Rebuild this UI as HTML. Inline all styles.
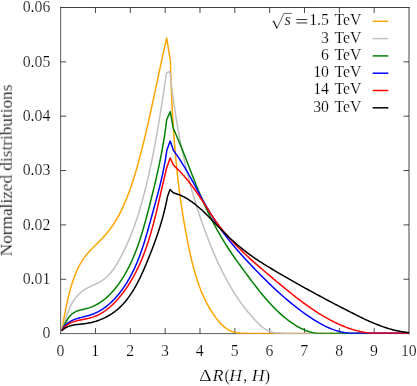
<!DOCTYPE html>
<html><head><meta charset="utf-8"><title>plot</title>
<style>
html,body{margin:0;padding:0;background:#fff;}
body{width:417px;height:386px;overflow:hidden;}
svg{display:block;}
svg text{will-change:transform;}
text{font-family:"Liberation Serif",serif;font-size:15.8px;fill:#000;stroke:#fff;stroke-width:0.2px;paint-order:fill stroke;}
.it{font-style:italic;}
</style></head><body>
<svg width="417" height="386" viewBox="0 0 417 386">
<rect x="0" y="0" width="417" height="386" fill="#fff"/>
<defs><clipPath id="cp"><rect x="60.65" y="7.5" width="348.35" height="326.15000000000003"/></clipPath></defs>
<g stroke="#000" stroke-width="0.72" fill="none">
<line x1="95.48" y1="333.60" x2="95.48" y2="328.10"/><line x1="95.48" y1="7.50" x2="95.48" y2="13.00"/><line x1="130.32" y1="333.60" x2="130.32" y2="328.10"/><line x1="130.32" y1="7.50" x2="130.32" y2="13.00"/><line x1="165.16" y1="333.60" x2="165.16" y2="328.10"/><line x1="165.16" y1="7.50" x2="165.16" y2="13.00"/><line x1="199.99" y1="333.60" x2="199.99" y2="328.10"/><line x1="199.99" y1="7.50" x2="199.99" y2="13.00"/><line x1="234.83" y1="333.60" x2="234.83" y2="328.10"/><line x1="234.83" y1="7.50" x2="234.83" y2="13.00"/><line x1="269.66" y1="333.60" x2="269.66" y2="328.10"/><line x1="269.66" y1="7.50" x2="269.66" y2="13.00"/><line x1="304.50" y1="333.60" x2="304.50" y2="328.10"/><line x1="304.50" y1="7.50" x2="304.50" y2="13.00"/><line x1="339.33" y1="333.60" x2="339.33" y2="328.10"/><line x1="339.33" y1="7.50" x2="339.33" y2="13.00"/><line x1="374.16" y1="333.60" x2="374.16" y2="328.10"/><line x1="374.16" y1="7.50" x2="374.16" y2="13.00"/><line x1="60.65" y1="279.25" x2="66.15" y2="279.25"/><line x1="409.00" y1="279.25" x2="403.50" y2="279.25"/><line x1="60.65" y1="224.90" x2="66.15" y2="224.90"/><line x1="409.00" y1="224.90" x2="403.50" y2="224.90"/><line x1="60.65" y1="170.55" x2="66.15" y2="170.55"/><line x1="409.00" y1="170.55" x2="403.50" y2="170.55"/><line x1="60.65" y1="116.20" x2="66.15" y2="116.20"/><line x1="409.00" y1="116.20" x2="403.50" y2="116.20"/><line x1="60.65" y1="61.85" x2="66.15" y2="61.85"/><line x1="409.00" y1="61.85" x2="403.50" y2="61.85"/>
</g>
<g fill="none" stroke-linecap="square">
<line x1="60.65" y1="7.5" x2="409.0" y2="7.5" stroke="#000" stroke-width="0.75"/>
<line x1="60.65" y1="7.5" x2="60.65" y2="333.6" stroke="#222" stroke-width="0.75"/>
<line x1="60.65" y1="333.6" x2="409.0" y2="333.6" stroke="#333" stroke-width="0.8"/>
<line x1="409.0" y1="7.5" x2="409.0" y2="333.6" stroke="#222" stroke-width="0.85"/>
</g>
<g clip-path="url(#cp)"><path d="M61.80 330.80L62.06 329.32L62.32 327.85L62.58 326.37L62.84 324.88L63.10 323.40L63.36 321.91L63.62 320.43L63.88 318.94L64.15 317.45L64.42 315.96L64.70 314.47L64.98 312.97L65.26 311.48L65.55 309.99L65.84 308.50L66.14 307.01L66.44 305.52L66.76 304.03L67.08 302.55L67.40 301.06L67.74 299.57L68.08 298.09L68.43 296.61L68.80 295.13L69.17 293.66L69.55 292.18L69.94 290.71L70.35 289.25L70.76 287.78L71.19 286.32L71.63 284.87L72.09 283.42L72.55 281.97L73.03 280.52L73.53 279.09L74.05 277.66L74.58 276.24L75.12 274.82L75.69 273.42L76.28 272.03L76.89 270.65L77.51 269.27L78.16 267.92L78.84 266.57L79.53 265.24L80.26 263.93L81.00 262.63L81.78 261.35L82.58 260.09L83.41 258.84L84.26 257.62L85.15 256.41L86.07 255.23L87.02 254.07L87.99 252.92L88.99 251.80L90.01 250.68L91.04 249.58L92.10 248.49L93.16 247.41L94.23 246.33L95.31 245.26L96.40 244.19L97.48 243.13L98.57 242.06L99.65 240.99L100.72 239.91L101.78 238.82L102.83 237.73L103.86 236.62L104.87 235.50L105.86 234.37L106.84 233.22L107.79 232.06L108.72 230.88L109.63 229.69L110.53 228.49L111.40 227.28L112.26 226.05L113.10 224.81L113.92 223.56L114.73 222.30L115.52 221.03L116.29 219.75L117.05 218.46L117.79 217.15L118.51 215.84L119.23 214.52L119.93 213.19L120.61 211.85L121.28 210.51L121.94 209.16L122.58 207.79L123.22 206.43L123.84 205.05L124.45 203.67L125.05 202.29L125.64 200.90L126.21 199.50L126.78 198.10L127.34 196.69L127.89 195.28L128.43 193.87L128.96 192.45L129.49 191.03L130.00 189.61L130.51 188.18L131.01 186.75L131.50 185.32L131.99 183.88L132.47 182.44L132.94 181.00L133.40 179.55L133.86 178.11L134.31 176.66L134.76 175.20L135.20 173.75L135.64 172.29L136.06 170.84L136.49 169.38L136.91 167.92L137.32 166.45L137.73 164.99L138.14 163.53L138.54 162.06L138.93 160.59L139.33 159.12L139.72 157.66L140.10 156.19L140.48 154.72L140.86 153.25L141.24 151.78L141.62 150.31L141.99 148.83L142.36 147.36L142.72 145.89L143.09 144.42L143.45 142.95L143.81 141.48L144.17 140.00L144.52 138.53L144.88 137.06L145.23 135.59L145.58 134.11L145.92 132.64L146.27 131.17L146.61 129.69L146.95 128.22L147.29 126.75L147.63 125.27L147.97 123.80L148.30 122.32L148.63 120.85L148.97 119.37L149.30 117.90L149.63 116.42L149.95 114.95L150.28 113.47L150.61 111.99L150.93 110.52L151.25 109.04L151.58 107.57L151.90 106.09L152.22 104.61L152.54 103.14L152.86 101.66L153.17 100.18L153.49 98.71L153.81 97.23L154.13 95.75L154.44 94.28L154.76 92.80L155.07 91.32L155.39 89.84L155.70 88.37L156.02 86.89L156.33 85.41L156.65 83.93L156.96 82.45L157.28 80.98L157.59 79.50L157.91 78.02L158.22 76.54L158.54 75.06L158.85 73.59L159.17 72.11L159.49 70.63L159.80 69.15L160.12 67.67L160.44 66.19L160.76 64.71L161.08 63.24L161.40 61.76L161.72 60.28L162.05 58.80L162.37 57.32L162.69 55.84L163.02 54.36L163.35 52.89L163.68 51.41L164.01 49.93L164.34 48.45L164.67 46.97L165.00 45.49L165.34 44.01L165.68 42.54L166.02 41.06L166.36 39.58L166.70 38.10L170.40 60.80L170.44 62.32L170.48 63.84L170.53 65.36L170.57 66.88L170.61 68.39L170.66 69.91L170.71 71.43L170.75 72.95L170.80 74.46L170.85 75.98L170.90 77.50L170.96 79.01L171.01 80.53L171.06 82.04L171.12 83.56L171.17 85.07L171.23 86.58L171.29 88.10L171.35 89.61L171.41 91.12L171.48 92.64L171.54 94.15L171.61 95.66L171.67 97.17L171.74 98.68L171.81 100.19L171.88 101.70L171.95 103.21L172.03 104.72L172.10 106.23L172.18 107.74L172.26 109.25L172.34 110.76L172.42 112.27L172.50 113.78L172.59 115.28L172.68 116.79L172.76 118.30L172.85 119.80L172.95 121.31L173.04 122.82L173.13 124.32L173.23 125.83L173.33 127.33L173.43 128.84L173.53 130.34L173.63 131.85L173.74 133.35L173.85 134.86L173.96 136.36L174.07 137.86L174.18 139.37L174.30 140.87L174.41 142.37L174.53 143.88L174.66 145.38L174.78 146.88L174.90 148.38L175.03 149.88L175.16 151.39L175.29 152.89L175.43 154.39L175.56 155.89L175.70 157.39L175.84 158.89L175.98 160.39L176.13 161.89L176.27 163.39L176.42 164.89L176.58 166.39L176.73 167.89L176.89 169.39L177.04 170.89L177.21 172.38L177.37 173.88L177.54 175.38L177.70 176.88L177.87 178.38L178.05 179.87L178.22 181.37L178.40 182.87L178.58 184.37L178.77 185.86L178.95 187.36L179.14 188.86L179.33 190.35L179.53 191.85L179.72 193.35L179.92 194.84L180.12 196.34L180.33 197.83L180.54 199.33L180.75 200.83L180.96 202.32L181.18 203.82L181.39 205.31L181.62 206.81L181.84 208.30L182.07 209.80L182.30 211.29L182.53 212.79L182.77 214.28L183.01 215.77L183.25 217.27L183.49 218.76L183.74 220.26L183.99 221.75L184.25 223.25L184.51 224.74L184.77 226.23L185.03 227.73L185.30 229.22L185.57 230.71L185.84 232.21L186.12 233.70L186.40 235.19L186.68 236.69L186.97 238.18L187.26 239.67L187.55 241.17L187.85 242.66L188.15 244.15L188.45 245.65L188.76 247.14L189.07 248.63L189.38 250.12L189.70 251.62L190.02 253.11L190.35 254.60L190.69 256.08L191.03 257.57L191.37 259.05L191.73 260.54L192.08 262.02L192.45 263.50L192.82 264.97L193.20 266.44L193.59 267.91L193.99 269.38L194.40 270.85L194.81 272.31L195.23 273.76L195.67 275.21L196.11 276.66L196.56 278.11L197.02 279.54L197.50 280.98L197.98 282.41L198.48 283.83L198.99 285.25L199.51 286.67L200.04 288.07L200.58 289.47L201.14 290.87L201.71 292.26L202.29 293.64L202.89 295.02L203.50 296.39L204.13 297.75L204.77 299.10L205.42 300.45L206.09 301.79L206.78 303.12L207.48 304.44L208.20 305.75L208.94 307.06L209.69 308.36L210.46 309.65L211.24 310.92L212.05 312.19L212.87 313.45L213.71 314.70L214.57 315.94L215.45 317.17L216.35 318.39L217.27 319.59L218.22 320.77L219.19 321.92L220.19 323.04L221.21 324.12L222.27 325.16L223.37 326.16L224.50 327.11L225.66 328.01L226.87 328.84L228.11 329.62L229.40 330.32L230.74 330.95L232.12 331.51L233.54 331.98L235.02 332.36L236.55 332.67L238.10 332.90L239.68 333.08L241.27 333.20L242.86 333.28L244.43 333.33L245.99 333.36L247.52 333.38L249.00 333.40L409.00 333.50" fill="none" stroke="#ffa500" stroke-width="1.5" stroke-linejoin="round" stroke-linecap="butt"/>
<path d="M61.80 330.80L62.29 329.44L62.77 328.05L63.23 326.63L63.69 325.20L64.15 323.75L64.60 322.29L65.05 320.82L65.51 319.34L65.98 317.86L66.46 316.38L66.95 314.90L67.46 313.43L68.00 311.97L68.55 310.53L69.14 309.10L69.75 307.69L70.40 306.30L71.08 304.95L71.80 303.61L72.56 302.31L73.35 301.04L74.19 299.81L75.06 298.61L75.96 297.44L76.91 296.31L77.89 295.22L78.92 294.17L79.98 293.16L81.08 292.20L82.23 291.28L83.41 290.41L84.63 289.59L85.90 288.81L87.20 288.08L88.53 287.39L89.89 286.72L91.26 286.07L92.65 285.44L94.04 284.80L95.43 284.15L96.81 283.49L98.17 282.81L99.51 282.09L100.83 281.33L102.11 280.52L103.36 279.65L104.57 278.73L105.74 277.77L106.87 276.76L107.97 275.70L109.03 274.61L110.06 273.48L111.05 272.33L112.01 271.14L112.94 269.93L113.83 268.70L114.70 267.45L115.53 266.18L116.34 264.90L117.13 263.60L117.89 262.29L118.64 260.98L119.37 259.65L120.09 258.32L120.81 256.99L121.51 255.65L122.20 254.30L122.88 252.96L123.55 251.60L124.21 250.24L124.86 248.88L125.51 247.51L126.14 246.14L126.77 244.77L127.38 243.39L127.99 242.01L128.59 240.62L129.18 239.23L129.77 237.84L130.34 236.44L130.91 235.04L131.46 233.63L132.01 232.22L132.56 230.81L133.09 229.40L133.62 227.98L134.14 226.56L134.65 225.14L135.16 223.71L135.65 222.28L136.15 220.85L136.63 219.41L137.11 217.97L137.58 216.53L138.04 215.09L138.50 213.65L138.95 212.20L139.40 210.75L139.84 209.30L140.28 207.85L140.70 206.39L141.13 204.93L141.54 203.47L141.96 202.01L142.36 200.55L142.77 199.09L143.16 197.62L143.55 196.15L143.94 194.68L144.32 193.21L144.70 191.74L145.07 190.27L145.44 188.80L145.81 187.32L146.17 185.85L146.53 184.37L146.88 182.90L147.23 181.42L147.58 179.94L147.92 178.47L148.26 176.99L148.59 175.51L148.92 174.03L149.25 172.55L149.58 171.07L149.90 169.59L150.22 168.11L150.54 166.63L150.85 165.15L151.17 163.66L151.47 162.18L151.78 160.70L152.08 159.22L152.38 157.73L152.68 156.25L152.97 154.76L153.27 153.28L153.56 151.79L153.84 150.31L154.13 148.82L154.41 147.34L154.69 145.85L154.97 144.36L155.24 142.88L155.52 141.39L155.79 139.90L156.06 138.41L156.32 136.92L156.59 135.44L156.85 133.95L157.11 132.46L157.37 130.97L157.63 129.48L157.89 127.98L158.14 126.49L158.39 125.00L158.65 123.51L158.90 122.02L159.14 120.53L159.39 119.03L159.64 117.54L159.88 116.05L160.12 114.55L160.36 113.06L160.60 111.56L160.84 110.07L161.08 108.57L161.32 107.08L161.56 105.58L161.79 104.09L162.02 102.59L162.26 101.09L162.49 99.60L162.72 98.10L162.95 96.60L163.18 95.10L163.41 93.61L163.64 92.11L163.87 90.61L164.10 89.11L164.33 87.61L164.56 86.11L164.78 84.61L165.01 83.11L165.24 81.61L165.47 80.11L165.69 78.61L165.92 77.11L166.15 75.60L166.37 74.10L166.60 72.60L169.90 71.50L170.06 73.00L170.23 74.50L170.39 76.00L170.56 77.50L170.74 79.00L170.91 80.50L171.09 81.99L171.27 83.49L171.45 84.99L171.63 86.49L171.82 87.98L172.01 89.48L172.20 90.98L172.39 92.47L172.59 93.97L172.79 95.47L172.99 96.96L173.20 98.46L173.41 99.95L173.62 101.44L173.83 102.94L174.04 104.43L174.26 105.92L174.48 107.41L174.71 108.91L174.93 110.40L175.16 111.89L175.40 113.38L175.63 114.87L175.87 116.36L176.11 117.85L176.35 119.33L176.60 120.82L176.85 122.31L177.10 123.80L177.36 125.28L177.61 126.77L177.88 128.25L178.14 129.74L178.41 131.22L178.68 132.70L178.95 134.18L179.23 135.67L179.51 137.15L179.79 138.63L180.08 140.11L180.37 141.59L180.66 143.07L180.95 144.54L181.25 146.02L181.55 147.50L181.86 148.97L182.17 150.45L182.48 151.92L182.80 153.39L183.11 154.87L183.44 156.34L183.76 157.81L184.09 159.28L184.42 160.75L184.76 162.22L185.10 163.68L185.44 165.15L185.78 166.62L186.13 168.08L186.49 169.55L186.84 171.01L187.20 172.47L187.57 173.93L187.93 175.39L188.30 176.85L188.68 178.31L189.06 179.77L189.44 181.23L189.82 182.68L190.21 184.14L190.61 185.59L191.00 187.05L191.40 188.50L191.81 189.95L192.22 191.40L192.63 192.85L193.04 194.30L193.46 195.74L193.89 197.19L194.31 198.63L194.74 200.08L195.18 201.52L195.62 202.96L196.06 204.40L196.51 205.84L196.96 207.28L197.41 208.72L197.87 210.15L198.34 211.59L198.80 213.02L199.27 214.45L199.75 215.89L200.23 217.32L200.71 218.74L201.20 220.17L201.69 221.60L202.19 223.02L202.69 224.45L203.19 225.87L203.70 227.29L204.22 228.71L204.73 230.13L205.26 231.55L205.78 232.96L206.31 234.38L206.85 235.79L207.39 237.20L207.93 238.61L208.48 240.02L209.03 241.43L209.59 242.84L210.15 244.24L210.72 245.65L211.29 247.05L211.86 248.45L212.44 249.85L213.03 251.25L213.62 252.64L214.21 254.04L214.82 255.43L215.42 256.82L216.03 258.20L216.65 259.59L217.27 260.97L217.90 262.34L218.54 263.72L219.18 265.09L219.83 266.46L220.48 267.82L221.14 269.18L221.81 270.54L222.48 271.90L223.16 273.25L223.85 274.59L224.54 275.93L225.25 277.27L225.95 278.60L226.67 279.93L227.40 281.25L228.13 282.57L228.87 283.89L229.62 285.19L230.37 286.50L231.14 287.79L231.91 289.09L232.69 290.37L233.48 291.65L234.28 292.93L235.08 294.20L235.90 295.46L236.72 296.72L237.56 297.97L238.40 299.21L239.25 300.45L240.11 301.68L240.99 302.90L241.87 304.11L242.76 305.32L243.66 306.52L244.57 307.72L245.49 308.90L246.42 310.08L247.37 311.25L248.32 312.42L249.28 313.57L250.26 314.72L251.24 315.85L252.24 316.98L253.25 318.10L254.27 319.22L255.30 320.32L256.34 321.41L257.39 322.49L258.47 323.56L259.56 324.60L260.67 325.60L261.81 326.57L262.98 327.50L264.18 328.37L265.42 329.19L266.70 329.94L268.02 330.63L269.39 331.23L270.81 331.75L272.28 332.19L273.81 332.52L275.39 332.76L277.01 332.92L278.63 333.02L280.24 333.09L281.81 333.15L283.31 333.22L284.71 333.33L286.00 333.50L409.00 333.50" fill="none" stroke="#c0c0c0" stroke-width="1.5" stroke-linejoin="round" stroke-linecap="butt"/>
<path d="M61.80 330.80L62.38 329.53L62.98 328.20L63.60 326.83L64.24 325.43L64.91 324.01L65.61 322.59L66.36 321.18L67.15 319.82L68.00 318.49L68.91 317.24L69.87 316.06L70.91 314.97L72.02 314.00L73.20 313.12L74.45 312.35L75.75 311.66L77.11 311.07L78.53 310.56L79.99 310.12L81.48 309.75L83.01 309.42L84.53 309.09L86.04 308.73L87.53 308.33L88.98 307.87L90.41 307.38L91.82 306.84L93.20 306.25L94.56 305.63L95.89 304.96L97.20 304.26L98.48 303.51L99.74 302.73L100.98 301.92L102.19 301.07L103.38 300.19L104.55 299.28L105.70 298.34L106.82 297.36L107.92 296.36L109.01 295.34L110.07 294.29L111.11 293.21L112.13 292.11L113.13 290.99L114.12 289.85L115.08 288.69L116.02 287.52L116.95 286.32L117.86 285.11L118.75 283.89L119.62 282.65L120.47 281.40L121.31 280.15L122.13 278.88L122.94 277.60L123.73 276.32L124.50 275.02L125.26 273.72L126.00 272.41L126.73 271.10L127.44 269.77L128.14 268.44L128.83 267.10L129.50 265.76L130.16 264.40L130.81 263.04L131.44 261.68L132.06 260.31L132.67 258.93L133.27 257.54L133.85 256.15L134.43 254.76L134.99 253.36L135.55 251.95L136.09 250.54L136.62 249.13L137.15 247.71L137.66 246.28L138.17 244.86L138.66 243.42L139.15 241.99L139.63 240.55L140.11 239.11L140.57 237.66L141.03 236.21L141.48 234.76L141.93 233.31L142.36 231.85L142.80 230.39L143.22 228.93L143.65 227.47L144.06 226.01L144.48 224.54L144.88 223.08L145.29 221.61L145.69 220.14L146.08 218.67L146.48 217.20L146.87 215.73L147.26 214.26L147.64 212.79L148.03 211.32L148.41 209.85L148.79 208.39L149.17 206.92L149.55 205.45L149.92 203.98L150.30 202.52L150.67 201.05L151.04 199.59L151.41 198.12L151.78 196.66L152.15 195.19L152.51 193.73L152.87 192.27L153.23 190.80L153.59 189.34L153.94 187.87L154.30 186.41L154.65 184.95L155.00 183.48L155.34 182.02L155.69 180.55L156.03 179.09L156.36 177.62L156.70 176.16L157.03 174.69L157.36 173.23L157.69 171.76L158.01 170.29L158.33 168.82L158.65 167.35L158.96 165.88L159.27 164.41L159.58 162.94L159.88 161.47L160.18 160.00L160.48 158.52L160.77 157.05L161.06 155.57L161.34 154.10L161.62 152.62L161.90 151.14L162.17 149.66L162.44 148.18L162.71 146.69L162.97 145.21L163.23 143.72L163.48 142.23L163.73 140.74L163.97 139.25L164.21 137.76L164.44 136.27L164.67 134.77L164.90 133.27L165.12 131.77L165.33 130.27L165.54 128.77L165.75 127.26L165.95 125.75L166.15 124.24L166.34 122.73L166.52 121.22L166.70 119.70L170.30 111.60L173.20 128.20L173.82 129.57L174.43 130.94L175.04 132.31L175.64 133.68L176.24 135.06L176.84 136.45L177.43 137.83L178.01 139.22L178.60 140.61L179.18 142.00L179.75 143.39L180.33 144.79L180.90 146.19L181.46 147.59L182.03 148.99L182.59 150.40L183.15 151.80L183.71 153.21L184.27 154.62L184.82 156.03L185.38 157.44L185.93 158.85L186.48 160.26L187.03 161.68L187.58 163.09L188.13 164.51L188.68 165.92L189.23 167.34L189.78 168.75L190.33 170.17L190.88 171.58L191.43 173.00L191.98 174.41L192.54 175.83L193.09 177.24L193.65 178.65L194.20 180.07L194.76 181.48L195.33 182.89L195.89 184.30L196.46 185.71L197.03 187.11L197.60 188.52L198.18 189.92L198.75 191.32L199.34 192.73L199.92 194.12L200.51 195.52L201.11 196.91L201.70 198.31L202.31 199.69L202.91 201.08L203.53 202.47L204.14 203.85L204.77 205.22L205.39 206.60L206.03 207.97L206.67 209.34L207.31 210.71L207.96 212.07L208.62 213.43L209.28 214.79L209.95 216.14L210.62 217.49L211.30 218.83L211.98 220.18L212.67 221.51L213.37 222.85L214.07 224.18L214.78 225.51L215.49 226.84L216.21 228.16L216.94 229.47L217.67 230.79L218.41 232.10L219.15 233.40L219.90 234.71L220.65 236.01L221.42 237.30L222.18 238.59L222.96 239.88L223.73 241.16L224.52 242.44L225.31 243.72L226.11 244.99L226.91 246.26L227.72 247.52L228.54 248.78L229.36 250.03L230.19 251.28L231.02 252.53L231.86 253.77L232.71 255.01L233.56 256.24L234.42 257.47L235.29 258.70L236.15 259.92L237.03 261.14L237.91 262.36L238.79 263.58L239.68 264.80L240.57 266.01L241.46 267.23L242.36 268.45L243.26 269.67L244.16 270.89L245.06 272.11L245.96 273.33L246.87 274.55L247.78 275.78L248.69 277.00L249.61 278.23L250.52 279.46L251.44 280.68L252.37 281.91L253.29 283.13L254.23 284.35L255.16 285.57L256.10 286.78L257.04 287.99L257.99 289.20L258.95 290.40L259.90 291.60L260.87 292.80L261.84 293.98L262.81 295.16L263.80 296.34L264.78 297.51L265.78 298.67L266.78 299.82L267.79 300.97L268.81 302.10L269.83 303.23L270.86 304.35L271.90 305.45L272.95 306.55L274.00 307.64L275.07 308.71L276.14 309.77L277.22 310.82L278.32 311.86L279.42 312.88L280.53 313.89L281.65 314.89L282.78 315.87L283.92 316.84L285.08 317.79L286.24 318.72L287.41 319.64L288.60 320.55L289.80 321.43L291.01 322.30L292.23 323.15L293.46 323.97L294.71 324.78L295.97 325.56L297.24 326.32L298.53 327.05L299.83 327.75L301.15 328.42L302.48 329.05L303.82 329.66L305.18 330.22L306.56 330.75L307.95 331.24L309.36 331.70L310.78 332.10L312.23 332.47L313.68 332.79L315.16 333.06L316.65 333.28L318.16 333.45L319.69 333.50L321.24 333.50L322.81 333.50L324.39 333.50L326.00 333.50L409.00 333.50" fill="none" stroke="#008000" stroke-width="1.5" stroke-linejoin="round" stroke-linecap="butt"/>
<path d="M61.80 330.80L62.52 329.28L63.32 327.89L64.21 326.63L65.16 325.47L66.18 324.42L67.27 323.47L68.41 322.61L69.61 321.83L70.86 321.13L72.15 320.49L73.48 319.91L74.85 319.38L76.25 318.90L77.68 318.45L79.12 318.03L80.59 317.63L82.06 317.25L83.55 316.87L85.03 316.49L86.52 316.10L88.00 315.69L89.47 315.25L90.92 314.79L92.35 314.28L93.76 313.73L95.15 313.14L96.52 312.51L97.86 311.83L99.18 311.12L100.48 310.38L101.76 309.59L103.02 308.78L104.26 307.92L105.48 307.04L106.67 306.13L107.85 305.18L109.00 304.21L110.13 303.21L111.25 302.19L112.34 301.14L113.41 300.07L114.47 298.98L115.50 297.86L116.52 296.73L117.51 295.58L118.49 294.41L119.44 293.22L120.38 292.02L121.30 290.81L122.20 289.59L123.08 288.35L123.94 287.11L124.78 285.85L125.61 284.59L126.42 283.31L127.21 282.03L127.99 280.73L128.75 279.43L129.49 278.12L130.22 276.80L130.93 275.47L131.63 274.13L132.32 272.79L132.99 271.44L133.64 270.08L134.29 268.71L134.92 267.34L135.54 265.96L136.14 264.57L136.74 263.18L137.32 261.78L137.89 260.37L138.45 258.96L139.00 257.55L139.54 256.13L140.07 254.70L140.59 253.27L141.10 251.84L141.61 250.40L142.10 248.96L142.59 247.51L143.07 246.06L143.54 244.61L144.00 243.15L144.46 241.70L144.91 240.23L145.36 238.77L145.80 237.31L146.24 235.84L146.67 234.37L147.09 232.90L147.52 231.43L147.93 229.96L148.35 228.49L148.76 227.01L149.17 225.54L149.58 224.07L149.99 222.60L150.39 221.12L150.79 219.65L151.19 218.18L151.60 216.71L152.00 215.25L152.40 213.78L152.80 212.31L153.20 210.85L153.60 209.39L154.00 207.93L154.40 206.47L154.80 205.01L155.20 203.55L155.60 202.10L155.99 200.64L156.38 199.18L156.77 197.73L157.16 196.27L157.55 194.81L157.93 193.36L158.31 191.90L158.69 190.44L159.06 188.98L159.43 187.52L159.79 186.06L160.15 184.60L160.51 183.14L160.86 181.67L161.21 180.21L161.55 178.74L161.89 177.27L162.22 175.79L162.55 174.32L162.87 172.84L163.18 171.36L163.49 169.88L163.79 168.40L164.08 166.91L164.37 165.42L164.65 163.92L164.92 162.42L165.19 160.92L165.44 159.42L165.69 157.91L165.93 156.40L166.16 154.88L166.38 153.36L166.60 151.83L166.80 150.30L170.20 141.00L173.40 150.30L174.29 151.51L175.16 152.73L176.03 153.96L176.88 155.20L177.73 156.45L178.57 157.70L179.40 158.96L180.22 160.22L181.03 161.50L181.83 162.77L182.63 164.06L183.42 165.35L184.20 166.64L184.98 167.94L185.75 169.25L186.52 170.55L187.28 171.87L188.03 173.18L188.78 174.50L189.53 175.83L190.27 177.15L191.01 178.48L191.75 179.81L192.48 181.15L193.22 182.48L193.95 183.82L194.67 185.16L195.40 186.50L196.13 187.84L196.85 189.18L197.58 190.52L198.30 191.86L199.03 193.20L199.76 194.54L200.48 195.88L201.21 197.22L201.95 198.56L202.68 199.89L203.42 201.22L204.16 202.55L204.90 203.88L205.64 205.20L206.40 206.53L207.15 207.84L207.91 209.16L208.68 210.47L209.45 211.77L210.22 213.08L211.01 214.37L211.79 215.66L212.59 216.95L213.39 218.23L214.21 219.51L215.02 220.77L215.85 222.04L216.69 223.29L217.53 224.54L218.38 225.78L219.24 227.02L220.11 228.25L220.98 229.48L221.87 230.69L222.75 231.91L223.65 233.12L224.55 234.32L225.46 235.52L226.38 236.71L227.30 237.90L228.23 239.08L229.17 240.26L230.11 241.43L231.06 242.60L232.02 243.77L232.98 244.92L233.94 246.08L234.91 247.23L235.89 248.38L236.87 249.52L237.86 250.66L238.85 251.80L239.85 252.93L240.85 254.06L241.85 255.19L242.86 256.31L243.88 257.43L244.90 258.55L245.92 259.66L246.95 260.77L247.98 261.88L249.01 262.99L250.05 264.09L251.09 265.20L252.13 266.29L253.18 267.39L254.23 268.49L255.29 269.58L256.34 270.67L257.40 271.76L258.46 272.85L259.52 273.94L260.59 275.02L261.66 276.10L262.74 277.18L263.81 278.26L264.89 279.33L265.98 280.40L267.06 281.46L268.15 282.53L269.25 283.59L270.34 284.64L271.44 285.69L272.55 286.74L273.66 287.79L274.77 288.83L275.88 289.86L277.00 290.89L278.13 291.92L279.26 292.94L280.39 293.96L281.52 294.97L282.66 295.97L283.81 296.97L284.96 297.97L286.11 298.96L287.27 299.94L288.43 300.92L289.60 301.89L290.77 302.86L291.95 303.82L293.13 304.77L294.32 305.71L295.51 306.65L296.71 307.59L297.91 308.51L299.12 309.43L300.33 310.34L301.55 311.24L302.77 312.14L304.00 313.03L305.24 313.90L306.48 314.78L307.72 315.64L308.97 316.49L310.23 317.34L311.49 318.18L312.76 319.01L314.04 319.82L315.32 320.63L316.61 321.42L317.91 322.19L319.21 322.95L320.52 323.69L321.84 324.42L323.17 325.12L324.50 325.81L325.85 326.47L327.20 327.10L328.56 327.72L329.94 328.31L331.32 328.87L332.71 329.40L334.12 329.90L335.53 330.38L336.95 330.82L338.39 331.23L339.84 331.60L341.30 331.94L342.77 332.24L344.25 332.51L345.75 332.73L347.26 332.92L348.78 333.06L350.31 333.16L351.86 333.22L353.42 333.23L355.00 333.20L409.00 333.20" fill="none" stroke="#0000ff" stroke-width="1.5" stroke-linejoin="round" stroke-linecap="butt"/>
<path d="M61.80 330.80L62.67 329.42L63.61 328.16L64.62 327.03L65.71 326.02L66.85 325.11L68.06 324.29L69.31 323.57L70.62 322.93L71.97 322.35L73.36 321.84L74.78 321.39L76.23 320.98L77.71 320.61L79.20 320.27L80.71 319.95L82.23 319.65L83.76 319.34L85.29 319.04L86.81 318.71L88.32 318.37L89.82 318.00L91.30 317.59L92.76 317.13L94.20 316.62L95.61 316.07L96.99 315.47L98.36 314.82L99.70 314.14L101.01 313.41L102.31 312.64L103.58 311.84L104.83 311.00L106.06 310.12L107.26 309.21L108.45 308.28L109.62 307.31L110.76 306.31L111.89 305.29L112.99 304.24L114.08 303.17L115.15 302.08L116.19 300.96L117.22 299.83L118.24 298.68L119.23 297.52L120.21 296.34L121.17 295.15L122.11 293.95L123.04 292.74L123.95 291.53L124.85 290.30L125.73 289.06L126.59 287.82L127.44 286.56L128.27 285.30L129.09 284.03L129.89 282.75L130.68 281.47L131.46 280.17L132.22 278.87L132.97 277.56L133.70 276.25L134.42 274.92L135.13 273.59L135.82 272.25L136.50 270.91L137.17 269.56L137.83 268.20L138.48 266.84L139.11 265.47L139.74 264.09L140.35 262.71L140.95 261.32L141.54 259.93L142.12 258.53L142.68 257.13L143.24 255.72L143.79 254.31L144.33 252.89L144.86 251.47L145.38 250.04L145.89 248.61L146.39 247.17L146.89 245.73L147.37 244.29L147.85 242.84L148.32 241.39L148.79 239.93L149.24 238.47L149.69 237.01L150.13 235.55L150.56 234.08L150.99 232.61L151.41 231.14L151.83 229.66L152.24 228.19L152.64 226.71L153.04 225.22L153.43 223.74L153.82 222.26L154.20 220.77L154.58 219.28L154.96 217.79L155.33 216.30L155.70 214.81L156.06 213.32L156.42 211.83L156.78 210.33L157.13 208.84L157.48 207.35L157.83 205.85L158.18 204.36L158.53 202.87L158.87 201.38L159.21 199.88L159.55 198.39L159.89 196.90L160.23 195.41L160.57 193.92L160.90 192.44L161.24 190.95L161.58 189.47L161.92 187.98L162.26 186.50L162.59 185.03L162.93 183.55L163.28 182.08L163.62 180.60L163.96 179.14L164.31 177.67L164.66 176.21L165.01 174.75L165.36 173.29L165.72 171.84L166.07 170.39L166.44 168.94L166.80 167.50L170.20 158.00L173.50 165.30L174.62 166.32L175.73 167.35L176.82 168.39L177.90 169.45L178.96 170.52L180.01 171.60L181.04 172.69L182.07 173.79L183.08 174.90L184.08 176.03L185.06 177.16L186.04 178.31L187.00 179.46L187.96 180.63L188.90 181.80L189.83 182.98L190.76 184.17L191.67 185.37L192.58 186.58L193.48 187.79L194.37 189.01L195.25 190.24L196.12 191.47L196.99 192.71L197.85 193.96L198.71 195.21L199.56 196.47L200.40 197.73L201.24 198.99L202.08 200.26L202.91 201.53L203.74 202.81L204.56 204.09L205.38 205.37L206.20 206.65L207.02 207.94L207.84 209.22L208.66 210.51L209.48 211.79L210.30 213.07L211.13 214.34L211.97 215.61L212.81 216.87L213.66 218.13L214.52 219.37L215.38 220.61L216.26 221.84L217.15 223.06L218.05 224.28L218.95 225.48L219.87 226.67L220.80 227.86L221.73 229.04L222.67 230.21L223.62 231.37L224.58 232.52L225.55 233.67L226.53 234.81L227.51 235.94L228.51 237.07L229.51 238.18L230.51 239.30L231.53 240.40L232.55 241.50L233.58 242.59L234.61 243.68L235.66 244.76L236.71 245.83L237.76 246.90L238.82 247.96L239.89 249.02L240.96 250.07L242.04 251.12L243.12 252.16L244.21 253.20L245.30 254.23L246.40 255.26L247.51 256.28L248.61 257.31L249.73 258.32L250.84 259.34L251.96 260.35L253.09 261.35L254.21 262.36L255.34 263.36L256.48 264.35L257.62 265.35L258.76 266.34L259.90 267.33L261.05 268.32L262.20 269.30L263.35 270.28L264.50 271.27L265.66 272.25L266.81 273.23L267.97 274.20L269.13 275.18L270.29 276.15L271.45 277.13L272.62 278.10L273.78 279.08L274.94 280.05L276.11 281.02L277.28 282.00L278.44 282.97L279.61 283.94L280.78 284.91L281.95 285.88L283.12 286.84L284.29 287.81L285.46 288.77L286.64 289.73L287.82 290.69L289.00 291.64L290.18 292.59L291.36 293.54L292.55 294.49L293.74 295.43L294.93 296.36L296.12 297.29L297.32 298.22L298.52 299.14L299.73 300.06L300.93 300.97L302.14 301.88L303.36 302.78L304.58 303.67L305.80 304.56L307.03 305.44L308.26 306.31L309.50 307.18L310.74 308.04L311.98 308.89L313.23 309.73L314.49 310.57L315.75 311.39L317.01 312.21L318.28 313.02L319.56 313.82L320.84 314.61L322.13 315.39L323.43 316.16L324.73 316.92L326.03 317.67L327.35 318.41L328.67 319.14L329.99 319.86L331.33 320.57L332.67 321.26L334.01 321.94L335.37 322.61L336.73 323.27L338.09 323.91L339.47 324.53L340.85 325.14L342.24 325.73L343.63 326.31L345.03 326.87L346.44 327.41L347.85 327.93L349.27 328.43L350.69 328.91L352.13 329.37L353.56 329.81L355.01 330.22L356.46 330.62L357.91 330.99L359.38 331.33L360.84 331.65L362.32 331.95L363.80 332.22L365.28 332.46L366.78 332.68L368.27 332.87L369.78 333.03L371.28 333.16L372.80 333.26L374.32 333.33L375.84 333.37L377.38 333.37L378.91 333.35L380.45 333.29L382.00 333.20L409.00 333.20" fill="none" stroke="#ff0000" stroke-width="1.5" stroke-linejoin="round" stroke-linecap="butt"/>
<path d="M61.80 330.80L62.94 329.71L64.13 328.76L65.37 327.93L66.66 327.22L67.98 326.62L69.34 326.12L70.73 325.69L72.16 325.34L73.60 325.05L75.07 324.81L76.56 324.61L78.06 324.44L79.57 324.28L81.09 324.12L82.62 323.96L84.14 323.78L85.66 323.58L87.17 323.34L88.67 323.06L90.17 322.75L91.65 322.41L93.13 322.03L94.59 321.62L96.05 321.18L97.49 320.70L98.92 320.20L100.33 319.66L101.73 319.08L103.11 318.48L104.47 317.85L105.82 317.18L107.15 316.48L108.46 315.76L109.75 315.00L111.02 314.21L112.26 313.39L113.48 312.54L114.68 311.67L115.86 310.76L117.01 309.82L118.13 308.86L119.23 307.87L120.31 306.85L121.37 305.81L122.40 304.75L123.41 303.66L124.40 302.54L125.37 301.41L126.32 300.25L127.25 299.08L128.16 297.88L129.05 296.66L129.92 295.43L130.78 294.18L131.62 292.91L132.44 291.63L133.25 290.33L134.04 289.02L134.81 287.70L135.57 286.36L136.32 285.01L137.05 283.66L137.77 282.29L138.48 280.91L139.18 279.52L139.86 278.13L140.53 276.73L141.20 275.33L141.85 273.91L142.49 272.50L143.13 271.08L143.75 269.66L144.37 268.24L144.98 266.82L145.59 265.39L146.18 263.97L146.78 262.55L147.36 261.13L147.94 259.72L148.52 258.30L149.09 256.89L149.66 255.48L150.22 254.08L150.77 252.67L151.32 251.27L151.86 249.86L152.40 248.46L152.94 247.06L153.46 245.66L153.98 244.26L154.50 242.85L155.01 241.45L155.51 240.05L156.01 238.65L156.50 237.24L156.98 235.84L157.46 234.43L157.94 233.02L158.40 231.61L158.86 230.19L159.31 228.78L159.76 227.36L160.20 225.94L160.63 224.51L161.06 223.08L161.48 221.65L161.89 220.21L162.30 218.77L162.70 217.33L163.09 215.88L163.47 214.42L163.85 212.96L164.22 211.50L164.58 210.03L164.94 208.55L165.28 207.07L165.62 205.58L165.96 204.08L166.28 202.58L166.60 201.07L166.91 199.56L167.21 198.03L167.50 196.50L170.00 189.40L173.30 192.80L174.78 193.21L176.24 193.67L177.67 194.17L179.07 194.71L180.45 195.28L181.81 195.89L183.15 196.54L184.47 197.22L185.77 197.94L187.05 198.68L188.31 199.45L189.55 200.26L190.78 201.08L191.99 201.94L193.19 202.81L194.38 203.71L195.55 204.63L196.70 205.57L197.85 206.52L198.99 207.50L200.11 208.49L201.23 209.49L202.34 210.51L203.44 211.54L204.53 212.59L205.62 213.64L206.70 214.70L207.78 215.77L208.85 216.85L209.91 217.94L210.98 219.03L212.04 220.13L213.10 221.23L214.16 222.33L215.22 223.43L216.28 224.53L217.34 225.63L218.40 226.73L219.46 227.82L220.53 228.91L221.60 230.00L222.67 231.08L223.75 232.15L224.83 233.22L225.92 234.28L227.01 235.34L228.11 236.39L229.21 237.43L230.31 238.47L231.43 239.50L232.54 240.52L233.66 241.53L234.79 242.54L235.92 243.53L237.06 244.52L238.21 245.50L239.36 246.48L240.52 247.44L241.68 248.39L242.85 249.34L244.03 250.28L245.21 251.20L246.40 252.12L247.60 253.03L248.81 253.93L250.02 254.81L251.24 255.69L252.47 256.56L253.70 257.42L254.94 258.27L256.18 259.11L257.44 259.95L258.69 260.77L259.95 261.59L261.22 262.41L262.49 263.22L263.76 264.02L265.04 264.82L266.32 265.61L267.61 266.40L268.90 267.18L270.19 267.96L271.48 268.74L272.77 269.51L274.07 270.29L275.37 271.06L276.67 271.82L277.97 272.59L279.27 273.35L280.57 274.12L281.88 274.88L283.18 275.64L284.49 276.40L285.80 277.15L287.10 277.91L288.41 278.66L289.72 279.41L291.04 280.16L292.35 280.91L293.66 281.65L294.98 282.40L296.29 283.14L297.61 283.88L298.93 284.62L300.25 285.36L301.57 286.10L302.89 286.83L304.21 287.56L305.53 288.30L306.86 289.03L308.18 289.76L309.51 290.48L310.84 291.21L312.16 291.93L313.49 292.66L314.82 293.38L316.15 294.10L317.48 294.82L318.81 295.53L320.15 296.25L321.48 296.96L322.81 297.68L324.15 298.39L325.48 299.10L326.82 299.81L328.16 300.52L329.49 301.22L330.83 301.93L332.17 302.63L333.51 303.34L334.85 304.04L336.19 304.74L337.54 305.44L338.88 306.13L340.22 306.83L341.56 307.52L342.91 308.22L344.25 308.91L345.60 309.60L346.94 310.29L348.29 310.98L349.64 311.67L350.98 312.36L352.33 313.04L353.68 313.72L355.03 314.41L356.38 315.08L357.73 315.76L359.09 316.43L360.44 317.09L361.80 317.75L363.16 318.41L364.52 319.06L365.89 319.70L367.25 320.33L368.62 320.95L370.00 321.57L371.37 322.17L372.75 322.77L374.14 323.35L375.53 323.92L376.92 324.49L378.31 325.03L379.72 325.57L381.12 326.09L382.53 326.60L383.95 327.09L385.37 327.57L386.80 328.03L388.23 328.47L389.67 328.90L391.11 329.31L392.56 329.70L394.02 330.07L395.48 330.42L396.96 330.75L398.43 331.06L399.92 331.35L401.41 331.62L402.91 331.86L404.42 332.08L405.94 332.28L407.47 332.45L409.00 332.60" fill="none" stroke="#000000" stroke-width="1.5" stroke-linejoin="round" stroke-linecap="butt"/></g>
<g><text x="60.45" y="355.7" text-anchor="middle">0</text><text x="95.28" y="355.7" text-anchor="middle">1</text><text x="130.12" y="355.7" text-anchor="middle">2</text><text x="164.96" y="355.7" text-anchor="middle">3</text><text x="199.79" y="355.7" text-anchor="middle">4</text><text x="234.63" y="355.7" text-anchor="middle">5</text><text x="269.46" y="355.7" text-anchor="middle">6</text><text x="304.30" y="355.7" text-anchor="middle">7</text><text x="339.13" y="355.7" text-anchor="middle">8</text><text x="373.96" y="355.7" text-anchor="middle">9</text><text x="408.80" y="355.7" text-anchor="middle">10</text></g>
<g><text x="50.3" y="338.30" text-anchor="end" >0</text><text x="50.3" y="283.95" text-anchor="end" >0.01</text><text x="50.3" y="229.60" text-anchor="end" >0.02</text><text x="50.3" y="175.25" text-anchor="end" >0.03</text><text x="50.3" y="120.90" text-anchor="end" >0.04</text><text x="50.3" y="66.55" text-anchor="end" >0.05</text><text x="50.3" y="12.20" text-anchor="end" >0.06</text></g>
<g><text x="361.5" y="25.20" text-anchor="end" style="word-spacing:1.9px">1.5 TeV</text><line x1="372.7" y1="21.30" x2="388.3" y2="21.30" stroke="#ffa500" stroke-width="1.5"/><text x="361.5" y="42.50" text-anchor="end" style="word-spacing:1.9px">3 TeV</text><line x1="372.7" y1="38.60" x2="388.3" y2="38.60" stroke="#c0c0c0" stroke-width="1.5"/><text x="361.5" y="59.80" text-anchor="end" style="word-spacing:1.9px">6 TeV</text><line x1="372.7" y1="55.90" x2="388.3" y2="55.90" stroke="#008000" stroke-width="1.5"/><text x="361.5" y="77.10" text-anchor="end" style="word-spacing:1.9px">10 TeV</text><line x1="372.7" y1="73.20" x2="388.3" y2="73.20" stroke="#0000ff" stroke-width="1.5"/><text x="361.5" y="94.40" text-anchor="end" style="word-spacing:1.9px">14 TeV</text><line x1="372.7" y1="90.50" x2="388.3" y2="90.50" stroke="#ff0000" stroke-width="1.5"/><text x="361.5" y="111.70" text-anchor="end" style="word-spacing:1.9px">30 TeV</text><line x1="372.7" y1="107.80" x2="388.3" y2="107.80" stroke="#000000" stroke-width="1.5"/></g>
<text class="it" x="284.6" y="25.1" style="font-size:16.5px">s</text>
<path d="M272.3 21.9 L273.7 20.9" fill="none" stroke="#000" stroke-width="0.6"/>
<path d="M273.6 20.9 L276.9 28.2" fill="none" stroke="#000" stroke-width="1.1"/>
<path d="M276.9 28.6 L283.9 13.4 L291.8 13.4" fill="none" stroke="#000" stroke-width="0.6"/>
<path d="M296.4 19.5 H307.2 M296.4 22.95 H307.2" fill="none" stroke="#000" stroke-width="0.8"/>
<g transform="translate(0,381.2)" style="font-size:16.5px">
<text x="199.3" y="0" transform="translate(199.3,0) scale(1.22,1) translate(-199.3,0)">&#916;</text>
<text class="it" x="212.6" y="0" transform="translate(212.6,0) scale(1.15,1) translate(-212.6,0)">R</text>
<text x="224.6" y="-0.5">(</text>
<text class="it" x="229.3" y="0" transform="translate(229.3,0) scale(1.12,1) translate(-229.3,0)">H</text>
<text x="243.3" y="0">,</text>
<text class="it" x="251.8" y="0" transform="translate(251.8,0) scale(1.12,1) translate(-251.8,0)">H</text>
<text x="264.7" y="-0.5">)</text>
</g>
<text transform="translate(11.8,170.3) rotate(-90) scale(1.09,1)" text-anchor="middle">Normalized distributions</text>
</svg>
</body></html>
